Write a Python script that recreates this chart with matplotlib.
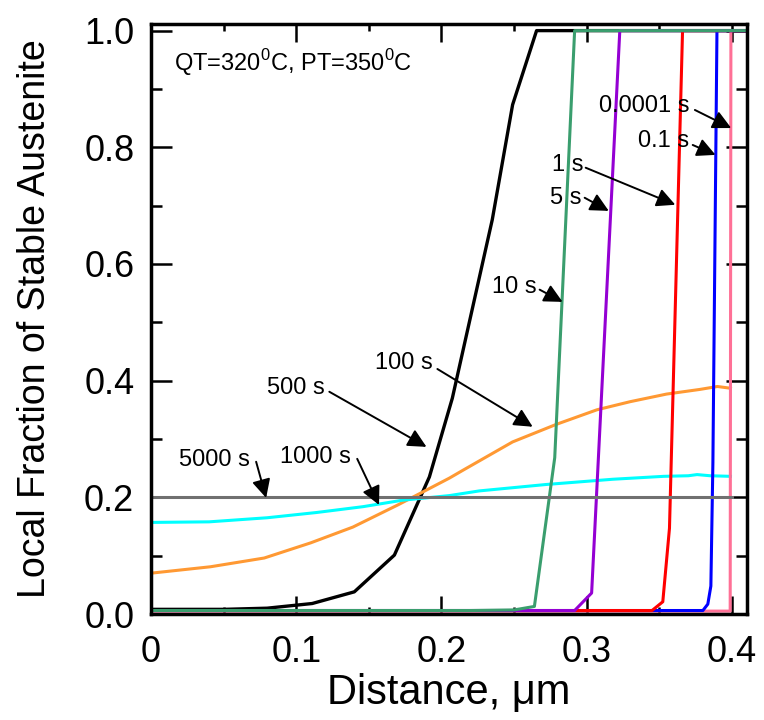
import matplotlib
matplotlib.use("Agg")
import matplotlib.pyplot as plt
from matplotlib.ticker import MultipleLocator

plt.rcParams['font.family'] = ['Liberation Sans', 'DejaVu Sans']
plt.rcParams['mathtext.fontset'] = 'custom'
plt.rcParams['mathtext.rm'] = 'Liberation Sans'

# profils (distance en um, fraction locale)
x_100 = [0, 0.05, 0.08, 0.111, 0.14, 0.1676, 0.1917, 0.2075, 0.235, 0.249, 0.2655, 0.41]
y_100 = [0.008, 0.008, 0.010, 0.018, 0.038, 0.101, 0.235, 0.370, 0.676, 0.873, 1.0, 1.0]

x_500 = [0, 0.041, 0.078, 0.11, 0.139, 0.17, 0.187, 0.2055, 0.2145, 0.249, 0.279,
         0.307, 0.33, 0.355, 0.378, 0.39, 0.399]
y_500 = [0.070, 0.081, 0.096, 0.122, 0.149, 0.187, 0.209, 0.233, 0.246, 0.295, 0.325,
         0.350, 0.364, 0.377, 0.385, 0.390, 0.387]

x_1000 = [0, 0.04, 0.08, 0.114, 0.146, 0.173, 0.2055, 0.226, 0.272, 0.318, 0.353,
          0.37, 0.376, 0.385, 0.399]
y_1000 = [0.157, 0.158, 0.165, 0.174, 0.184, 0.195, 0.203, 0.211, 0.222, 0.231, 0.236,
          0.237, 0.239, 0.237, 0.236]

x_5000 = [0, 0.4]
y_5000 = [0.2, 0.2]

x_10 = [0, 0.22, 0.25, 0.264, 0.278, 0.2917, 0.41]
y_10 = [0.006, 0.006, 0.007, 0.013, 0.268, 1.0, 1.0]

x_5 = [0, 0.2917, 0.3034, 0.3228, 0.41]
y_5 = [0.006, 0.006, 0.036, 1.0, 1.0]

x_1 = [0, 0.345, 0.3524, 0.357, 0.366, 0.41]
y_1 = [0.006, 0.006, 0.021, 0.147, 1.0, 1.0]

x_01 = [0, 0.380, 0.3834, 0.3855, 0.3869, 0.3897, 0.41]
y_01 = [0.006, 0.006, 0.017, 0.048, 0.26, 1.0, 1.0]

x_00001 = [0, 0.3988, 0.3993, 0.41]
y_00001 = [0.005, 0.005, 1.0, 1.0]

# étiquettes : texte, position du texte, départ et pointe de la flèche
labels = ["0.0001 s", "0.1 s", "1 s", "5 s", "10 s", "100 s", "500 s", "1000 s", "5000 s"]
label_xy = [(0.3397, 0.870), (0.3528, 0.810), (0.2869, 0.770), (0.2859, 0.7135),
            (0.2503, 0.561), (0.1738, 0.4305), (0.1000, 0.3877), (0.1131, 0.2690), (0.0438, 0.2640)]
tail_xy = [(0.3745, 0.864), (0.3730, 0.804), (0.2993, 0.765), (0.2986, 0.7135),
           (0.2676, 0.556), (0.1972, 0.420), (0.1228, 0.381), (0.1420, 0.2660), (0.0724, 0.2610)]
head_xy = [(0.3995, 0.833), (0.3887, 0.787), (0.3610, 0.7015), (0.3152, 0.691),
           (0.2834, 0.535), (0.2628, 0.321), (0.1897, 0.2865), (0.1570, 0.1870), (0.0793, 0.1990)]

fig = plt.figure(figsize=(7.64, 7.2), dpi=100)
ax = fig.add_axes([0.1976, 0.1472, 0.78, 0.82])

lw = 2.2
ax.plot(x_100, y_100, color='black', lw=2.4)
ax.plot(x_500, y_500, color='#FF9933', lw=lw)
ax.plot(x_1000, y_1000, color='#00FFFF', lw=lw)
# ordre de tracé : la courbe la plus courte en dessous
ax.plot(x_00001, y_00001, color='#FF7096', lw=lw)
ax.plot(x_01, y_01, color='#0000FF', lw=lw)
ax.plot(x_1, y_1, color='#FF0000', lw=lw)
ax.plot(x_5, y_5, color='#9400D3', lw=lw)
ax.plot(x_10, y_10, color='#3A9E6E', lw=lw)
ax.plot(x_5000, y_5000, color='#707070', lw=lw)

for txt, pos, tail, head in zip(labels, label_xy, tail_xy, head_xy):
    ax.text(pos[0], pos[1], txt, fontsize=17, ha='center', va='center')
    ax.annotate('', xy=head, xytext=tail,
                arrowprops=dict(arrowstyle='-|>', color='black', lw=1.4,
                                mutation_scale=28, shrinkA=0, shrinkB=0))

ax.text(0.016, 0.945, r'QT=320$^\mathregular{0}$C, PT=350$^\mathregular{0}$C',
        fontsize=17, ha='left', va='center')

ax.set_xlim(0, 0.4103)
ax.set_ylim(0, 1.012)
ax.set_xticks([0, 0.1, 0.2, 0.3, 0.4])
ax.set_xticklabels(["0", "0.1", "0.2", "0.3", "0.4"])
ax.set_yticks([0, 0.2, 0.4, 0.6, 0.8, 1.0])
ax.set_yticklabels(["0.0", "0.2", "0.4", "0.6", "0.8", "1.0"])
ax.xaxis.set_minor_locator(MultipleLocator(0.05))
ax.yaxis.set_minor_locator(MultipleLocator(0.1))

ax.tick_params(which='both', direction='in', top=True, right=True, width=1.8)
ax.tick_params(axis='x', which='major', length=13, labelsize=26, pad=15)
ax.tick_params(axis='x', which='minor', length=5)
ax.tick_params(axis='y', which='major', length=15, labelsize=26, pad=12)
ax.tick_params(axis='y', which='minor', length=8)
for s in ax.spines.values():
    s.set_linewidth(2.5)

ax.set_xlabel("Distance, μm", fontsize=30, labelpad=2)
ax.set_ylabel("Local Fraction of Stable Austenite", fontsize=27, labelpad=22)

fig.savefig("out.png", dpi=100)
